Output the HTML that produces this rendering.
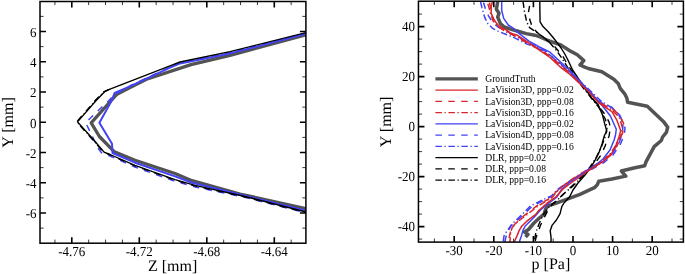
<!DOCTYPE html>
<html><head><meta charset="utf-8"><style>
html,body{margin:0;padding:0;background:#fff;}
body{width:685px;height:274px;overflow:hidden;position:relative;}
</style></head><body>
<svg width="685" height="274" viewBox="0 0 685 274" style="position:absolute;left:0;top:0">
<defs><clipPath id="cl"><rect x="40.0" y="1.5" width="265.9" height="241.7"/></clipPath><clipPath id="cr"><rect x="418.45" y="1.2" width="264.95" height="240.9"/></clipPath></defs>
<g clip-path="url(#cl)">
<polyline points="306.0,34.7 230.0,55.3 191.0,64.6 146.5,79.2 130.0,87.6 117.0,94.2 106.7,105.5 91.2,122.8 99.4,136.5 114.4,151.8 135.0,160.3 175.0,173.5 192.0,180.7 240.0,194.0 306.0,208.6" fill="none" stroke="#535353" stroke-width="3.3" stroke-linejoin="round"/>
<polyline points="306.0,33.8 230.0,53.4 180.2,63.4 170.0,67.6 130.0,86.4 114.6,92.9 112.0,100.0 99.4,122.8 112.0,143.8 112.5,153.0 135.0,162.7 175.0,176.4 192.0,182.8 245.0,195.7 306.0,210.8" fill="none" stroke="#4242f6" stroke-width="2.0" stroke-linejoin="round"/>
<polyline points="306.0,33.1 230.0,52.6 180.0,63.0 170.0,67.2 130.0,85.8 114.0,95.0 108.5,101.0 94.8,113.7 85.7,122.8 89.3,130.1 97.7,147.7 101.5,152.8 110.0,156.0 135.0,167.0 175.0,181.3 195.0,186.9 245.0,197.3 306.0,212.8" fill="none" stroke="#4242f6" stroke-width="1.5" stroke-linejoin="round" stroke-dasharray="6.5 6.4"/>
<polyline points="109.1,89.2 103.8,91.7 95.7,100.0 76.6,121.9 92.9,140.0 103.2,152.1 109.1,154.5 135.0,166.0 175.0,180.2 195.0,186.0 245.0,197.1 306.0,212.6" fill="none" stroke="#000" stroke-width="1.2" stroke-linejoin="round" stroke-dasharray="6.5 6.4"/>
<polyline points="109.5,89.2 104.2,91.7 96.1,100.0 77.0,121.9 93.3,140.0 103.6,152.1 109.5,154.5" fill="none" stroke="#000" stroke-width="1.2" stroke-linejoin="round" stroke-dasharray="6.5 2.6 1.3 2.6"/>
<polyline points="306.0,32.6 230.0,51.6 180.0,62.0 170.0,65.9 130.0,81.3 110.0,89.2 104.7,91.7 96.6,100.0 77.5,121.9 93.8,140.0 104.1,152.1 110.0,154.5 135.0,165.4 175.0,179.6 195.0,185.4 245.0,196.5 306.0,212.0" fill="none" stroke="#000" stroke-width="1.35" stroke-linejoin="round"/>
</g>
<g clip-path="url(#cr)">
<polyline points="497.7,1.5 496.4,9.2 499.0,13.2 497.7,17.1 500.4,23.7 504.3,27.0 512.2,29.6 518.0,31.2 526.2,33.6 534.9,35.2 540.0,36.8 548.0,40.5 556.0,43.3 560.0,44.6 571.0,51.4 577.3,54.8 583.8,60.6 580.0,65.0 584.2,66.9 588.2,68.5 601.9,71.8 613.8,79.2 618.4,83.8 620.2,88.3 624.7,93.8 626.8,98.0 627.6,102.3 647.3,106.2 654.9,113.6 663.9,122.1 667.7,127.3 666.4,132.4 662.6,137.0 661.3,140.5 654.2,146.6 646.0,161.9 644.7,165.8 633.8,168.0 621.4,171.0 625.8,176.1 611.9,179.0 598.8,181.2 597.3,184.8 594.4,187.7 580.0,194.4 556.3,203.2 547.5,206.1 545.5,209.5 544.0,214.1 538.8,218.5 534.0,223.0 528.5,229.5 524.6,232.0 528.0,234.5 525.5,237.0" fill="none" stroke="#535353" stroke-width="3.5" stroke-linejoin="round"/>
<polyline points="539.8,1.5 539.9,12.0 540.1,21.9 543.0,26.6 548.0,31.5 552.9,37.3 557.0,42.5 561.1,48.0 564.5,53.5 567.7,59.5 572.6,70.0 580.0,81.0 586.0,89.5 591.7,97.9 598.0,104.4 602.4,114.6 604.6,123.4 606.8,131.4 604.6,135.0 603.1,140.0 602.1,144.0 599.1,152.1 595.1,160.1 591.1,167.1 585.0,175.0 578.0,183.0 573.0,190.0 569.5,197.0 564.0,203.0 561.8,206.6 560.0,213.8 556.4,220.0 552.0,225.4 550.2,230.7 551.1,237.9 551.0,243.0" fill="none" stroke="#000" stroke-width="1.4" stroke-linejoin="round"/>
<polyline points="529.6,5.8 528.5,12.0 529.6,19.0 532.5,27.7 538.4,33.6 544.2,38.0 554.6,46.4 562.8,56.2 568.5,66.1 574.0,74.0 586.0,90.0 596.0,103.0 604.6,113.9 609.0,121.9 610.4,127.7 609.0,136.5 607.1,140.0 605.1,146.0 601.0,155.0 596.0,162.0 590.0,169.0 582.0,176.0 574.0,184.0 566.0,192.0 557.0,200.0 550.0,207.0 545.7,214.6 540.4,225.4 538.6,230.7 535.9,237.9 535.0,243.0" fill="none" stroke="#000" stroke-width="1.4" stroke-linejoin="round" stroke-dasharray="6.5 6.4"/>
<polyline points="523.0,1.5 524.5,11.7 526.7,21.9 529.6,27.7 535.4,31.4 542.7,36.5 550.0,43.0 557.0,51.0 563.0,60.0 568.0,68.0 574.0,76.0 584.0,89.0 598.8,107.3 605.3,119.0 607.0,128.0 605.0,137.0 601.0,148.0 596.0,158.0 590.0,167.0 580.9,177.9 572.2,186.7 563.4,194.0 557.5,199.9 548.8,207.2 543.0,215.0 539.0,224.0 536.0,232.0 534.0,243.0" fill="none" stroke="#000" stroke-width="1.4" stroke-linejoin="round" stroke-dasharray="6.5 2.6 1.3 2.6"/>
<polyline points="480.6,2.0 482.0,7.9 484.6,17.1 487.9,23.7 492.5,28.3 499.0,31.6 505.6,34.2 513.1,37.1 526.2,43.7 536.7,47.6 547.2,52.9 556.0,60.0 566.0,68.0 576.0,78.0 588.0,88.5 601.0,101.0 612.4,108.2 620.0,115.5 623.0,124.0 622.4,133.8 619.0,143.0 612.0,154.0 604.0,161.0 594.0,167.0 584.0,172.5 574.0,178.5 565.0,184.0 557.0,190.0 551.5,195.9 543.3,199.6 530.5,206.0 518.6,217.8 512.0,224.0 506.6,231.5 504.0,236.0 503.3,240.8 503.0,243.0" fill="none" stroke="#4242f6" stroke-width="1.5" stroke-linejoin="round" stroke-dasharray="6.5 2.6 1.3 2.6"/>
<polyline points="483.5,2.5 485.5,9.0 488.5,15.8 492.5,22.4 499.0,27.6 506.0,31.0 514.0,34.5 526.0,41.5 537.0,46.5 547.0,52.0 556.0,60.5 566.0,69.0 577.0,79.0 588.0,89.5 597.0,99.0 604.6,105.1 611.9,107.3 620.7,117.5 625.0,127.7 624.3,135.0 620.0,145.0 613.0,155.0 604.0,162.5 593.0,168.5 583.0,173.5 573.0,179.5 564.0,185.0 558.0,190.0 553.0,195.5 545.0,199.8 532.0,206.5 520.5,217.5 511.0,226.0 507.0,233.0 505.0,240.8 504.9,243.0" fill="none" stroke="#4242f6" stroke-width="1.5" stroke-linejoin="round" stroke-dasharray="6.5 6.4"/>
<polyline points="487.9,3.9 490.5,13.2 493.1,21.0 497.7,26.3 505.6,31.6 512.0,34.5 518.0,37.5 528.0,43.5 540.0,49.5 552.0,58.0 562.0,66.0 573.0,76.0 586.0,88.5 600.0,102.5 612.0,110.0 619.0,117.0 622.0,126.0 621.5,134.0 617.0,144.0 610.0,154.0 601.0,161.5 591.0,167.5 581.0,173.5 571.0,180.0 563.0,186.0 557.0,191.5 552.0,197.5 538.0,206.0 524.5,216.5 516.0,223.0 512.0,228.0 510.5,233.0 509.9,243.0" fill="none" stroke="#d8252b" stroke-width="1.5" stroke-linejoin="round" stroke-dasharray="6.5 2.6 1.3 2.6"/>
<polyline points="489.5,2.5 491.0,10.0 492.5,17.0 496.0,23.0 501.0,28.0 508.0,32.5 516.0,36.5 527.0,42.5 538.0,48.5 548.0,55.0 557.0,62.5 567.0,71.0 578.0,81.0 588.0,90.5 596.0,99.5 603.0,104.5 613.0,109.5 619.2,114.6 623.6,123.4 622.8,132.1 619.0,142.0 613.0,152.0 604.0,160.5 594.0,166.5 584.0,172.0 574.0,178.5 565.0,184.5 557.0,191.0 550.6,197.7 536.0,206.5 522.3,216.9 514.0,225.0 510.5,232.0 509.0,238.0 508.2,243.0" fill="none" stroke="#d8252b" stroke-width="1.5" stroke-linejoin="round" stroke-dasharray="6.5 6.4"/>
<polyline points="501.7,1.3 501.7,10.5 503.7,18.4 508.3,25.0 513.5,28.3 517.1,31.9 528.9,41.1 539.4,47.0 550.0,52.2 557.9,59.5 567.7,68.5 578.0,79.0 588.0,90.0 601.0,104.0 610.4,116.0 616.3,129.2 615.5,135.0 614.1,140.0 610.0,150.0 603.0,159.0 595.0,165.5 586.0,171.0 577.0,177.5 569.0,183.0 562.0,189.0 557.0,196.8 548.8,203.2 541.0,209.5 535.0,216.2 529.6,221.7 525.2,226.0 523.0,230.4 521.4,235.9 519.7,240.8 519.5,243.0" fill="none" stroke="#4242f6" stroke-width="1.5" stroke-linejoin="round"/>
<polyline points="492.5,1.3 491.2,6.6 491.2,13.2 493.8,19.7 499.0,26.3 506.9,30.3 510.5,33.2 517.5,35.3 526.2,41.1 539.4,50.2 550.0,57.5 561.1,67.7 570.0,74.5 578.0,82.0 588.0,91.0 598.8,102.9 611.9,111.7 617.0,120.4 620.7,130.7 619.0,137.0 616.0,145.0 611.0,155.0 603.0,161.5 595.0,166.5 587.0,171.5 579.0,177.5 571.0,183.0 563.0,189.0 556.0,196.8 547.0,203.2 538.7,210.5 536.1,214.0 531.8,217.3 526.3,221.7 521.9,226.0 519.2,230.4 517.0,235.9 514.8,240.8 514.5,243.0" fill="none" stroke="#d8252b" stroke-width="1.5" stroke-linejoin="round"/>
</g>
<path d="M71.80,243.2v-6M71.80,1.5v6M139.30,243.2v-6M139.30,1.5v6M206.80,243.2v-6M206.80,1.5v6M274.30,243.2v-6M274.30,1.5v6M40.0,213.00h6M305.9,213.00h-6M40.0,182.75h6M305.9,182.75h-6M40.0,152.50h6M305.9,152.50h-6M40.0,122.25h6M305.9,122.25h-6M40.0,92.00h6M305.9,92.00h-6M40.0,61.75h6M305.9,61.75h-6M40.0,31.50h6M305.9,31.50h-6" stroke="#000" stroke-width="1.6" fill="none"/>
<path d="M54.93,243.2v-3.6M54.93,1.5v3.6M88.67,243.2v-3.6M88.67,1.5v3.6M105.55,243.2v-3.6M105.55,1.5v3.6M122.43,243.2v-3.6M122.43,1.5v3.6M156.17,243.2v-3.6M156.17,1.5v3.6M173.05,243.2v-3.6M173.05,1.5v3.6M189.93,243.2v-3.6M189.93,1.5v3.6M223.67,243.2v-3.6M223.67,1.5v3.6M240.55,243.2v-3.6M240.55,1.5v3.6M257.43,243.2v-3.6M257.43,1.5v3.6M291.17,243.2v-3.6M291.17,1.5v3.6M40.0,228.12h3.6M305.9,228.12h-3.6M40.0,197.88h3.6M305.9,197.88h-3.6M40.0,167.62h3.6M305.9,167.62h-3.6M40.0,137.38h3.6M305.9,137.38h-3.6M40.0,107.12h3.6M305.9,107.12h-3.6M40.0,76.88h3.6M305.9,76.88h-3.6M40.0,46.62h3.6M305.9,46.62h-3.6M40.0,16.38h3.6M305.9,16.38h-3.6" stroke="#222" stroke-width="0.9" fill="none"/>
<path d="M454.20,242.1v-6M454.20,1.2v6M493.80,242.1v-6M493.80,1.2v6M533.40,242.1v-6M533.40,1.2v6M573.00,242.1v-6M573.00,1.2v6M612.60,242.1v-6M612.60,1.2v6M652.20,242.1v-6M652.20,1.2v6M418.45,226.60h6M683.4,226.60h-6M418.45,176.60h6M683.4,176.60h-6M418.45,126.60h6M683.4,126.60h-6M418.45,76.60h6M683.4,76.60h-6M418.45,26.60h6M683.4,26.60h-6" stroke="#000" stroke-width="1.6" fill="none"/>
<path d="M434.40,242.1v-3.6M434.40,1.2v3.6M474.00,242.1v-3.6M474.00,1.2v3.6M513.60,242.1v-3.6M513.60,1.2v3.6M553.20,242.1v-3.6M553.20,1.2v3.6M592.80,242.1v-3.6M592.80,1.2v3.6M632.40,242.1v-3.6M632.40,1.2v3.6M672.00,242.1v-3.6M672.00,1.2v3.6M418.45,239.10h3.6M683.4,239.10h-3.6M418.45,214.10h3.6M683.4,214.10h-3.6M418.45,201.60h3.6M683.4,201.60h-3.6M418.45,189.10h3.6M683.4,189.10h-3.6M418.45,164.10h3.6M683.4,164.10h-3.6M418.45,151.60h3.6M683.4,151.60h-3.6M418.45,139.10h3.6M683.4,139.10h-3.6M418.45,114.10h3.6M683.4,114.10h-3.6M418.45,101.60h3.6M683.4,101.60h-3.6M418.45,89.10h3.6M683.4,89.10h-3.6M418.45,64.10h3.6M683.4,64.10h-3.6M418.45,51.60h3.6M683.4,51.60h-3.6M418.45,39.10h3.6M683.4,39.10h-3.6M418.45,14.10h3.6M683.4,14.10h-3.6" stroke="#222" stroke-width="0.9" fill="none"/>
<rect x="40.0" y="1.5" width="265.9" height="241.7" fill="none" stroke="#000" stroke-width="1.5"/>
<rect x="418.45" y="1.2" width="264.95" height="240.9" fill="none" stroke="#000" stroke-width="1.5"/>
<g style='font-family:"Liberation Serif", "DejaVu Serif", serif;font-size:13px;fill:#000;text-rendering:geometricPrecision'>
<text transform="translate(36.5,36.90) scale(1,1.06)" text-anchor="end">6</text>
<text transform="translate(36.5,67.15) scale(1,1.06)" text-anchor="end">4</text>
<text transform="translate(36.5,97.40) scale(1,1.06)" text-anchor="end">2</text>
<text transform="translate(36.5,127.65) scale(1,1.06)" text-anchor="end">0</text>
<text transform="translate(36.5,157.90) scale(1,1.06)" text-anchor="end">-2</text>
<text transform="translate(36.5,188.15) scale(1,1.06)" text-anchor="end">-4</text>
<text transform="translate(36.5,218.40) scale(1,1.06)" text-anchor="end">-6</text>
<text transform="translate(71.80,256.1) scale(1,1.06)" text-anchor="middle">-4.76</text>
<text transform="translate(139.30,256.1) scale(1,1.06)" text-anchor="middle">-4.72</text>
<text transform="translate(206.80,256.1) scale(1,1.06)" text-anchor="middle">-4.68</text>
<text transform="translate(274.30,256.1) scale(1,1.06)" text-anchor="middle">-4.64</text>
<text transform="translate(415,31.10) scale(1,1.06)" text-anchor="end">40</text>
<text transform="translate(415,81.10) scale(1,1.06)" text-anchor="end">20</text>
<text transform="translate(415,131.10) scale(1,1.06)" text-anchor="end">0</text>
<text transform="translate(415,181.10) scale(1,1.06)" text-anchor="end">-20</text>
<text transform="translate(415,231.10) scale(1,1.06)" text-anchor="end">-40</text>
<text transform="translate(454.20,255.0) scale(1,1.06)" text-anchor="middle">-30</text>
<text transform="translate(493.80,255.0) scale(1,1.06)" text-anchor="middle">-20</text>
<text transform="translate(533.40,255.0) scale(1,1.06)" text-anchor="middle">-10</text>
<text transform="translate(573.00,255.0) scale(1,1.06)" text-anchor="middle">0</text>
<text transform="translate(612.60,255.0) scale(1,1.06)" text-anchor="middle">10</text>
<text transform="translate(652.20,255.0) scale(1,1.06)" text-anchor="middle">20</text>
</g>
<g style='font-family:"Liberation Serif", "DejaVu Serif", serif;font-size:16px;fill:#000;text-rendering:geometricPrecision'>
<text x="172.6" y="270.6" text-anchor="middle">Z [mm]</text>
<text x="550.9" y="269.3" text-anchor="middle">p [Pa]</text>
<text transform="translate(13.3,122.5) rotate(-90)" text-anchor="middle">Y [mm]</text>
<text transform="translate(391.2,121.9) rotate(-90)" text-anchor="middle">Y [mm]</text>
</g>
<g style='font-family:"Liberation Serif", "DejaVu Serif", serif;font-size:9.65px;fill:#000'>
<line x1="435.4" y1="78.90" x2="477.8" y2="78.90" stroke="#535353" stroke-width="3.3"/>
<text x="485.2" y="82.10">GroundTruth</text>
<line x1="435.4" y1="90.15" x2="477.8" y2="90.15" stroke="#d8252b" stroke-width="1.3"/>
<text x="485.2" y="93.35">LaVision3D, ppp=0.02</text>
<line x1="435.4" y1="101.40" x2="477.8" y2="101.40" stroke="#d8252b" stroke-width="1.3" stroke-dasharray="6.5 6.4"/>
<text x="485.2" y="104.60">LaVision3D, ppp=0.08</text>
<line x1="435.4" y1="112.65" x2="477.8" y2="112.65" stroke="#d8252b" stroke-width="1.3" stroke-dasharray="6.5 2.6 1.3 2.6"/>
<text x="485.2" y="115.85">LaVision3D, ppp=0.16</text>
<line x1="435.4" y1="123.90" x2="477.8" y2="123.90" stroke="#4242f6" stroke-width="1.3"/>
<text x="485.2" y="127.10">LaVision4D, ppp=0.02</text>
<line x1="435.4" y1="135.15" x2="477.8" y2="135.15" stroke="#4242f6" stroke-width="1.3" stroke-dasharray="6.5 6.4"/>
<text x="485.2" y="138.35">LaVision4D, ppp=0.08</text>
<line x1="435.4" y1="146.40" x2="477.8" y2="146.40" stroke="#4242f6" stroke-width="1.3" stroke-dasharray="6.5 2.6 1.3 2.6"/>
<text x="485.2" y="149.60">LaVision4D, ppp=0.16</text>
<line x1="435.4" y1="157.65" x2="477.8" y2="157.65" stroke="#000" stroke-width="1.3"/>
<text x="485.2" y="160.85">DLR, ppp=0.02</text>
<line x1="435.4" y1="168.90" x2="477.8" y2="168.90" stroke="#000" stroke-width="1.3" stroke-dasharray="6.5 6.4"/>
<text x="485.2" y="172.10">DLR, ppp=0.08</text>
<line x1="435.4" y1="180.15" x2="477.8" y2="180.15" stroke="#000" stroke-width="1.3" stroke-dasharray="6.5 2.6 1.3 2.6"/>
<text x="485.2" y="183.35">DLR, ppp=0.16</text>
</g>
</svg>
</body></html>
